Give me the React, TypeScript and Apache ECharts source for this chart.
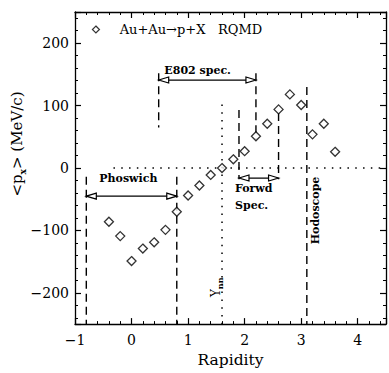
import React, { useEffect, useRef } from 'react';
import * as echarts from 'echarts';

// ---- data ----
const rapidity = [-0.4, -0.2, 0, 0.2, 0.4, 0.6, 0.8, 1.0, 1.2, 1.4, 1.6, 1.8, 2.0, 2.2, 2.4, 2.6, 2.8, 3.0, 3.2, 3.4, 3.6];
const meanPx = [-86, -109, -149, -129, -119, -99, -70, -44, -28, -11, 0, 14, 27, 51, 71, 94, 118, 101, 54, 71, 26];
const xTicks = [-1, 0, 1, 2, 3, 4];
const yTicks = [-200, -100, 0, 100, 200];
const legendPoint = [-0.63, 222];
const legendTexts = [
  { text: 'Au+Au→p+X', at: [-0.21, 222] },
  { text: 'RQMD', at: [1.53, 222] },
];
const dottedLines = [
  [[-0.32, 0], [4.5, 0]],
  [[1.6, 102], [1.6, -250]],
];
const dashedLines = [
  [[-0.8, -14], [-0.8, -250]],
  [[0.8, -14], [0.8, -250]],
  [[0.48, 152], [0.48, 65]],
  [[2.2, 152], [2.2, 46]],
  [[1.9, 93], [1.9, -18]],
  [[2.6, 88], [2.6, -18]],
  [[3.1, 130], [3.1, -250]],
];
const arrows = [
  [-0.8, 0.8, -45],
  [0.48, 2.2, 141],
  [1.9, 2.6, -16],
];
const labels = [
  { text: 'Phoswich', at: [-0.57, -17] },
  { text: 'E802 spec.', at: [0.58, 157] },
  { text: 'Forwd', at: [1.83, -32] },
  { text: 'Spec.', at: [1.83, -60] },
];
const rotatedLabels = [
  { text: 'Hodoscope', at: [3.26, -68] },
];
const ynnLabel = { main: 'Y', sub: 'nn', at: [1.5, -191] };

const FF = '"DejaVu Serif", serif';
const fmt = (v: number) => String(v).replace('-', '−');

export default function App() {
  const ref = useRef<HTMLDivElement>(null);
  useEffect(() => {
    if (!ref.current) return;
    const chart = echarts.init(ref.current, null, { renderer: 'svg' });
    const axisCommon = {
      type: 'value',
      axisLine: { onZero: false, lineStyle: { color: '#000', width: 1.3 } },
      axisTick: { inside: true, length: 6, lineStyle: { color: '#000', width: 1.2 } },
      minorTick: { show: true, splitNumber: 5, length: 3, lineStyle: { color: '#000', width: 1 } },
      splitLine: { show: false },
      minorSplitLine: { show: false },
    };
    const labelStyle = { fontFamily: FF, fontSize: 14, color: '#000' };
    const option: any = {
      animation: false,
      backgroundColor: '#fff',
      grid: { left: 75, right: -3, top: 12, bottom: 47 },
      xAxis: [
        {
          ...axisCommon, min: -1, max: 4.5, interval: 1, position: 'bottom',
          axisLabel: { ...labelStyle, margin: 9, formatter: (v: number) => (xTicks.includes(v) ? fmt(v) : '') },
          name: 'Rapidity', nameLocation: 'middle', nameGap: 27,
          nameTextStyle: { fontFamily: FF, fontSize: 15.5, color: '#000' },
        },
        {
          ...axisCommon, min: -1, max: 4.5, interval: 1, position: 'top',
          axisLabel: { show: false },
        },
      ],
      yAxis: [
        {
          ...axisCommon, min: -250, max: 250, splitNumber: 5, position: 'left',
          axisLabel: { ...labelStyle, margin: 6, formatter: (v: number) => (yTicks.includes(v) ? fmt(v) : '') },
        },
        {
          ...axisCommon, min: -250, max: 250, splitNumber: 5, position: 'right',
          axisLabel: { show: false },
        },
      ],
      graphic: [
        {
          type: 'text', x: 17, y: 144, rotation: Math.PI / 2,
          style: {
            text: '{a|<p}{s|x}{a|> (MeV/c)}',
            align: 'center', verticalAlign: 'middle',
            rich: {
              a: { fontFamily: FF, fontSize: 15, fill: '#000', color: '#000', lineHeight: 20, verticalAlign: 'middle' },
              s: { fontFamily: FF, fontSize: 9, fill: '#000', color: '#000', lineHeight: 20, verticalAlign: 'bottom', fontWeight: 'bold' },
            },
          },
        },
      ],
      series: [
        {
          type: 'custom',
          xAxisIndex: 0, yAxisIndex: 0,
          data: [[0, 0]],
          silent: true,
          z: 1,
          renderItem: (_p: any, api: any) => {
            const children: any[] = [];
            dottedLines.forEach(([a, b]) => {
              const p1 = api.coord(a); const p2 = api.coord(b);
              children.push({ type: 'line', shape: { x1: p1[0], y1: p1[1], x2: p2[0], y2: p2[1] },
                style: { stroke: '#000', lineWidth: 1.5, lineDash: [1.5, 6.3] } });
            });
            dashedLines.forEach(([a, b]) => {
              const p1 = api.coord(a); const p2 = api.coord(b);
              children.push({ type: 'line', shape: { x1: p1[0], y1: p1[1], x2: p2[0], y2: p2[1] },
                style: { stroke: '#000', lineWidth: 1.4, lineDash: [8, 5] } });
            });
            arrows.forEach(([x1, x2, y]) => {
              const p1 = api.coord([x1, y]); const p2 = api.coord([x2, y]);
              children.push({ type: 'line', shape: { x1: p1[0], y1: p1[1], x2: p2[0], y2: p2[1] },
                style: { stroke: '#000', lineWidth: 1.3 } });
              const L = 10, H = 3;
              children.push({ type: 'polygon', shape: { points: [[p1[0], p1[1]], [p1[0] + L, p1[1] - H], [p1[0] + L, p1[1] + H]] },
                style: { fill: '#fff', stroke: '#000', lineWidth: 1.2 } });
              children.push({ type: 'polygon', shape: { points: [[p2[0], p2[1]], [p2[0] - L, p2[1] - H], [p2[0] - L, p2[1] + H]] },
                style: { fill: '#fff', stroke: '#000', lineWidth: 1.2 } });
            });
            labels.forEach((l) => {
              const p = api.coord(l.at);
              children.push({ type: 'text', x: p[0], y: p[1],
                style: { text: l.text, fill: '#000', font: `bold 11px ${FF}`, align: 'left', verticalAlign: 'middle' } });
            });
            legendTexts.forEach((l) => {
              const p = api.coord(l.at);
              children.push({ type: 'text', x: p[0], y: p[1],
                style: { text: l.text, fill: '#000', font: `13px ${FF}`, align: 'left', verticalAlign: 'middle' } });
            });
            rotatedLabels.forEach((l) => {
              const p = api.coord(l.at);
              children.push({ type: 'text', x: p[0], y: p[1], rotation: Math.PI / 2,
                style: { text: l.text, fill: '#000', font: `bold 11px ${FF}`, align: 'center', verticalAlign: 'middle' } });
            });
            const pn = api.coord(ynnLabel.at);
            children.push({ type: 'text', x: pn[0], y: pn[1], rotation: Math.PI / 2,
              style: {
                text: `{a|${ynnLabel.main}}{s|${ynnLabel.sub}}`, align: 'center', verticalAlign: 'middle',
                rich: {
                  a: { fontFamily: FF, fontSize: 12, fill: '#000', color: '#000', lineHeight: 16, verticalAlign: 'middle' },
                  s: { fontFamily: FF, fontSize: 8, fill: '#000', color: '#000', lineHeight: 16, verticalAlign: 'bottom', fontWeight: 'bold' },
                },
              } });
            return { type: 'group', children };
          },
        },
        {
          type: 'scatter', xAxisIndex: 0, yAxisIndex: 0, z: 3,
          data: rapidity.map((r, i) => [r, meanPx[i]]),
          symbol: 'diamond', symbolSize: 9,
          itemStyle: { color: '#fff', borderColor: '#000', borderWidth: 1.3 },
        },
        {
          type: 'scatter', xAxisIndex: 0, yAxisIndex: 0, z: 3,
          data: [legendPoint],
          symbol: 'diamond', symbolSize: 7,
          itemStyle: { color: '#fff', borderColor: '#000', borderWidth: 1.2 },
        },
      ],
    };
    chart.setOption(option);
    return () => chart.dispose();
  }, []);
  return <div ref={ref} style={{ position: 'fixed', left: 0, top: 0, width: 389, height: 373, background: '#fff' }} />;
}
